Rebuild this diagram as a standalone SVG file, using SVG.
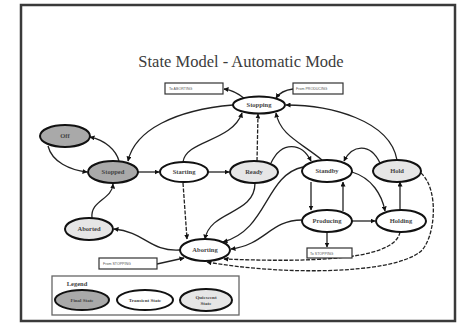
<svg xmlns="http://www.w3.org/2000/svg" width="464" height="323" viewBox="0 0 464 323">
  <style>
    .frame { fill: #ffffff; stroke: #3a3a3a; stroke-width: 2.5; }
    .title { font-family: "Liberation Serif", "DejaVu Serif", serif; font-size: 16.5px; fill: #3c3c3c; text-anchor: middle; }
    .state { stroke: #111; stroke-width: 2; }
    .final { fill: #a9a9a9; }
    .transient { fill: #ffffff; }
    .quiescent { fill: #e6e6e6; }
    .lbl { font-family: "Liberation Serif", serif; font-size: 6.5px; font-weight: bold; fill: #444; text-anchor: middle; }
    .note { fill: #ffffff; stroke: #333; stroke-width: 1.2; }
    .notelbl { font-family: "Liberation Sans", sans-serif; font-size: 3.6px; fill: #555; }
    .edge { fill: none; stroke: #222; stroke-width: 1.3; marker-end: url(#arrow); }
    .dash { stroke-dasharray: 4 1.5; }
    .legend { fill: #ffffff; stroke: #666; stroke-width: 1.3; }
  </style>
  <defs>
    <marker id="arrow" viewBox="0 0 10 10" refX="9" refY="5" markerWidth="5" markerHeight="5" markerUnits="userSpaceOnUse" orient="auto">
      <path d="M0,0 L10,5 L0,10 z" fill="#111"/>
    </marker>
  </defs>

  <rect x="0" y="0" width="464" height="323" fill="#ffffff"/>
  <rect class="frame" x="21" y="5" width="434" height="316"/>

  <text class="title" x="241" y="67">State Model - Automatic Mode</text>

  <!-- transitions -->
  <g id="connectors">
    <path class="edge" d="M48,146 C52,162 70,170 87,172"/>
    <path class="edge" d="M119,161 C116,150 105,140 90,137"/>
    <path class="edge" d="M138,172 L159,172"/>
    <path class="edge" d="M208,172 L229,172"/>
    <path class="edge" d="M183,162 C186,140 232,142 242,113"/>
    <path class="edge dash" d="M257,161 L258,114"/>
    <path class="edge" d="M233,105 C175,110 135,130 128,161"/>
    <path class="edge" d="M322,160 C300,142 280,135 276,113"/>
    <path class="edge" d="M397,160 C390,120 330,105 286,105"/>
    <path class="edge" d="M271,163 C282,140 302,143 311,161"/>
    <path class="edge" d="M380,163 C370,142 352,145 344,161"/>
    <path class="edge" d="M311,182 L311,210"/>
    <path class="edge" d="M343,211 L343,182"/>
    <path class="edge" d="M352,172 C372,178 382,195 385,211"/>
    <path class="edge" d="M400,210 L400,182"/>
    <path class="edge" d="M352,221 L375,221"/>
    <path class="edge" d="M327,232 L327,247"/>
    <path class="edge" d="M302,220 C270,220 265,245 231,249"/>
    <path class="edge" d="M303,167 C265,175 268,230 223,242"/>
    <path class="edge" d="M255,183 C255,215 210,210 205,239"/>
    <path class="edge dash" d="M183,183 L187,239"/>
    <path class="edge" d="M92,218 C90,200 112,200 113,184"/>
    <path class="edge" d="M180,250 C150,252 145,232 114,229"/>
    <path class="edge" d="M157,264 L184,258"/>
    <path class="edge dash" d="M400,232 C395,262 300,262 224,259"/>
    <path class="edge dash" d="M421,173 C440,190 435,240 420,252 C390,275 280,275 207,262"/>
    <path class="edge" d="M245,99 C238,93 232,90 224,89"/>
    <path class="edge" d="M293,89 C285,90 280,92 276,98"/>
  </g>

  <!-- notes -->
  <g id="note-to-aborting">
    <rect class="note" x="165" y="83" width="58" height="11"/>
    <text class="notelbl" x="169" y="90">To ABORTING</text>
  </g>
  <g id="note-from-producing">
    <rect class="note" x="293" y="83" width="50" height="11"/>
    <text class="notelbl" x="296" y="90">From PRODUCING</text>
  </g>
  <g id="note-to-stopping">
    <rect class="note" x="307" y="248" width="45" height="10"/>
    <text class="notelbl" x="310" y="254.5">To STOPPING</text>
  </g>
  <g id="note-from-stopping">
    <rect class="note" x="99" y="258" width="58" height="11"/>
    <text class="notelbl" x="103" y="265">From STOPPING</text>
  </g>

  <!-- states -->
  <g id="stopping"><ellipse class="state transient" cx="259" cy="105" rx="26" ry="8.5"/><text class="lbl" x="259" y="107">Stopping</text></g>
  <g id="off"><ellipse class="state final" cx="65" cy="136" rx="25" ry="11"/><text class="lbl" x="65" y="138">Off</text></g>
  <g id="stopped"><ellipse class="state final" cx="113" cy="172" rx="25" ry="11"/><text class="lbl" x="113" y="174">Stopped</text></g>
  <g id="starting"><ellipse class="state transient" cx="184" cy="172" rx="24" ry="10"/><text class="lbl" x="184" y="174">Starting</text></g>
  <g id="ready"><ellipse class="state quiescent" cx="254" cy="172" rx="24" ry="11"/><text class="lbl" x="254" y="174">Ready</text></g>
  <g id="standby"><ellipse class="state transient" cx="327" cy="171" rx="25" ry="11"/><text class="lbl" x="327" y="173">Standby</text></g>
  <g id="hold"><ellipse class="state quiescent" cx="397" cy="171" rx="24" ry="11"/><text class="lbl" x="397" y="173">Hold</text></g>
  <g id="aborted"><ellipse class="state quiescent" cx="89" cy="229" rx="24" ry="11"/><text class="lbl" x="89" y="231">Aborted</text></g>
  <g id="producing"><ellipse class="state transient" cx="327" cy="221" rx="25" ry="11"/><text class="lbl" x="327" y="223">Producing</text></g>
  <g id="holding"><ellipse class="state transient" cx="401" cy="221" rx="25" ry="11"/><text class="lbl" x="401" y="223">Holding</text></g>
  <g id="aborting"><ellipse class="state transient" cx="205" cy="250" rx="25" ry="11"/><text class="lbl" x="205" y="252">Aborting</text></g>

  <!-- key -->
  <g id="legend">
    <rect class="legend" x="52" y="276" width="187" height="39"/>
    <text class="lbl" x="77" y="286">Legend</text>
    <ellipse class="state final" cx="82" cy="300" rx="27" ry="10"/>
    <text class="lbl" x="82" y="302" style="font-size:5px">Final State</text>
    <ellipse class="state transient" cx="145" cy="300" rx="28" ry="10"/>
    <text class="lbl" x="145" y="302" style="font-size:5px">Transient State</text>
    <ellipse class="state quiescent" cx="206" cy="300" rx="26" ry="11"/>
    <text class="lbl" x="206" y="299" style="font-size:5px">Quiescent</text>
    <text class="lbl" x="206" y="305" style="font-size:5px">State</text>
  </g>
</svg>
